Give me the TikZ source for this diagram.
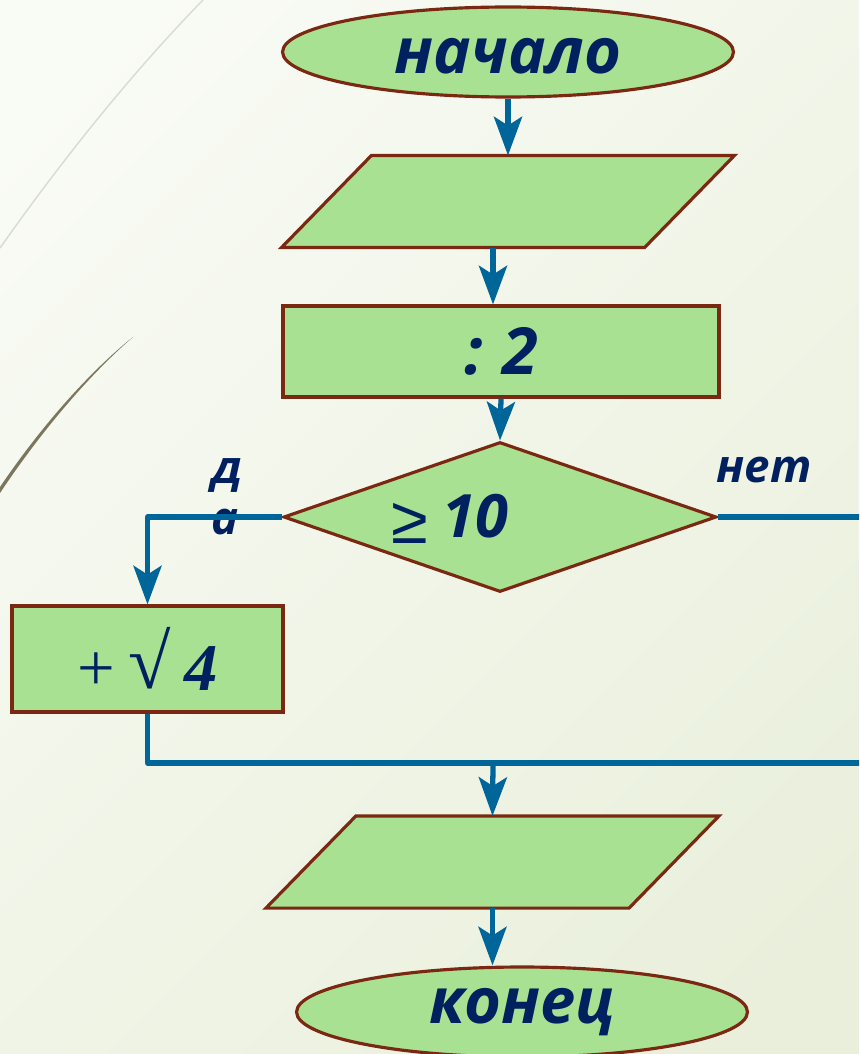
\documentclass[tikz,border=0pt]{standalone}
\usepackage{fontspec}
\setmainfont{Open Sans}
\newfontfamily\gfont{Open Sans}
\newfontfamily\gslant{Open Sans}[FakeSlant=0.22]
\newfontfamily\serfont{Liberation Serif}
\newfontfamily\lsfont{Liberation Sans}
\usetikzlibrary{shapes.geometric,arrows.meta,calc}
\definecolor{boxfill}{HTML}{A8E192}
\definecolor{boxline}{HTML}{7B2812}
\definecolor{arrowc}{HTML}{006699}
\definecolor{textc}{HTML}{00205F}
\definecolor{bgA}{HTML}{F9FBF5}
\definecolor{bgB}{HTML}{E9EFDB}
\definecolor{curveA}{HTML}{D9DBD0}
\definecolor{curveB}{HTML}{7C765C}
\begin{document}
\begin{tikzpicture}[x=0.02cm,y=-0.02cm,
  blk/.style={fill=boxfill,draw=boxline,line width=1.8pt,inner sep=0pt,text=textc},
  gtext/.style={text=textc,font=\gfont\bfseries\itshape\fontsize{36}{40}\selectfont},
  term/.style={blk,ellipse,minimum width=9.02cm,minimum height=1.8cm,gtext},
  iobox/.style={rectangle,inner sep=0pt,outer sep=0.9pt,minimum width=7.2cm,minimum height=1.78cm},
  ioshape/.style={fill=boxfill,draw=boxline,line width=1.8pt,line join=miter},
  proc/.style={blk,rectangle},
  cond/.style={blk,diamond,aspect=2.9,minimum width=8.66cm,minimum height=3cm},
  flow/.style={draw=arrowc,line width=3pt,line join=round},
  arr/.style={flow,-{Stealth[length=22pt,width=16pt,inset=5pt]}},
  lbl/.style={text=textc,font=\gfont\bfseries\itshape\fontsize{26}{29}\selectfont,inner sep=0pt}
]
\useasboundingbox (0,0) rectangle (859,1054);
\clip (0,0) rectangle (859,1054);
\shade[top color=bgA,bottom color=bgB,shading angle=45] (-100,-100) rectangle (959,1154);
% decorative curves
\draw[curveA,line width=0.8pt] (0,248) .. controls (55,170) and (125,80) .. (203,0);
\fill[curveB] (0,493) .. controls (40,433) and (88,376) .. (133,337)
   .. controls (88,373) and (40,428) .. (0,487) -- cycle;

% nodes
\node[term,text height=25pt,text depth=0pt] (start) at (508,52) {начало};
\node[iobox] (in1) at (508,201.5) {};
\filldraw[ioshape] ($(in1.north west)+(45,0)$) -- ($(in1.north east)+(45,0)$)
   -- ($(in1.south east)+(-45,0)$) -- ($(in1.south west)+(-45,0)$) -- cycle;
\node[proc,minimum width=8.72cm,minimum height=1.82cm,gtext,font=\gfont\bfseries\itshape\fontsize{37}{40}\selectfont] (op) at (501,351.5) {:\hspace{0.3em}2};
\node[cond] (dec) at (500,517) {};
\node[gtext,inner sep=0pt] (dect) at (450,519) {{\lsfont\mdseries\upshape\fontsize{38}{40}\selectfont\raisebox{-0.08em}{≥}}\hspace{0.22em}{\fontsize{34}{40}\selectfont 10}};
\node[proc,minimum width=5.42cm,minimum height=2.12cm,text=textc,font=\serfont\fontsize{38}{40}\selectfont] (pl) at (147.5,659) {+\hspace{0.2em}{\fontsize{44}{44}\selectfont\raisebox{0.02em}{√}}\hspace{0.2em}{\serfont\bfseries\itshape 4}};
\node[iobox] (in2) at (492.5,862) {};
\filldraw[ioshape] ($(in2.north west)+(45,0)$) -- ($(in2.north east)+(45,0)$)
   -- ($(in2.south east)+(-45,0)$) -- ($(in2.south west)+(-45,0)$) -- cycle;
\node[term] (end) at (522,1012) {конец};

\node[lbl,align=center] (da) at (225,497) {{\gslant\bfseries\upshape д}\\а};
\node[lbl,anchor=base] (net) at (764,482) {нет};

\coordinate (mj) at (493,763);
\coordinate (offr) at (900,517);

% connectors
\draw[arr] (start.south) -- (in1.north);
\draw[arr] ([xshift=-0.3cm]in1.south) -- ([xshift=-0.3cm]in1.south |- op.north);
\draw[arr] (op.south) -- (dec.north);
\draw[arr] (dec.west) -| (pl.north);
\draw[flow] (dec.east) -- (offr) |- (mj);
\draw[flow] (pl.south) |- (mj);
\draw[arr] (mj) -- (in2.north);
\draw[arr] (in2.south) -- (in2.south |- end.north);
\end{tikzpicture}
\end{document}
